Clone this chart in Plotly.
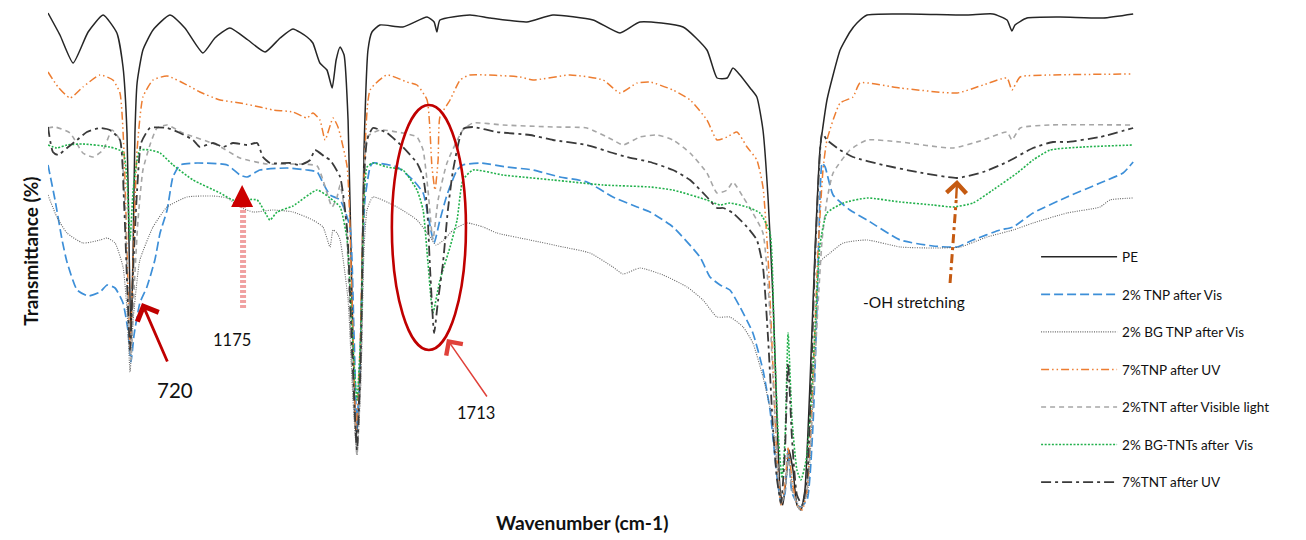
import plotly.graph_objects as go

# ---- data (wavenumber cm-1, transmittance in arbitrary % units) ----
pe_x = [450, 489, 532, 581, 630, 675, 695, 708, 715, 721, 728, 734, 741, 760, 793, 848, 897, 956, 995, 1044,
        1103, 1159, 1208, 1250, 1296, 1315, 1338, 1361, 1378, 1391, 1404, 1417, 1430, 1443, 1456, 1469, 1482,
        1495, 1508, 1534, 1609, 1688, 1711, 1720, 1730, 1828, 1894, 2014, 2099, 2230, 2318, 2383, 2524, 2602,
        2635, 2668, 2687, 2710, 2743, 2765, 2785, 2802, 2818, 2831, 2841, 2850, 2860, 2870, 2883, 2896, 2909,
        2922, 2939, 2955, 2971, 2978, 2994, 3014, 3037, 3069, 3092, 3125, 3256, 3451, 3536, 3582, 3598, 3608,
        3647, 3755, 3896, 3994]
pe_y = [101.4, 97.0, 91.4, 97.6, 101.0, 97.4, 90.6, 77.4, 54.0, 36.0, 54.0, 77.4, 87.4, 94.0, 98.0, 101.0, 98.4,
        93.4, 96.4, 98.4, 96.0, 93.6, 96.4, 98.2, 96.6, 95.4, 91.4, 90.0, 86.4, 92.0, 94.6, 93.0, 80.0, 44.0, 16.0,
        28.0, 74.0, 94.0, 97.6, 99.0, 98.6, 100.6, 99.6, 97.6, 100.0, 101.0, 100.4, 99.6, 101.0, 100.0, 97.4, 99.6,
        98.6, 94.0, 88.4, 88.4, 90.4, 89.0, 86.4, 84.6, 78.0, 64.0, 44.0, 20.0, 6.0, 3.0, 8.0, 14.0, 10.0, 3.0, 2.0,
        6.0, 28.0, 54.0, 74.0, 77.4, 84.0, 89.0, 94.0, 97.6, 99.4, 101.0, 101.2, 101.0, 101.2, 100.0, 97.8, 99.0,
        100.4, 100.6, 100.4, 101.2]

tnp_vis_x = [450, 473, 496, 512, 545, 581, 620, 643, 669, 695, 711, 721, 731, 750, 773, 799, 816, 839, 858, 881,
             937, 1035, 1077, 1100, 1142, 1231, 1296, 1329, 1348, 1371, 1404, 1436, 1449, 1459, 1472, 1485, 1502,
             1511, 1590, 1642, 1675, 1694, 1711, 1730, 1753, 1786, 1805, 1861, 1949, 2034, 2122, 2210, 2295, 2374,
             2416, 2491, 2579, 2612, 2645, 2677, 2710, 2752, 2785, 2808, 2831, 2844, 2857, 2867, 2880, 2906, 2929,
             2948, 2962, 2971, 2978, 2988, 3014, 3069, 3125, 3233, 3340, 3419, 3471, 3559, 3602, 3667, 3778, 3886,
             3961, 3994]
tnp_vis_y = [71.0, 64.0, 56.0, 51.6, 46.0, 44.8, 45.6, 47.0, 46.4, 43.4, 38.0, 31.6, 37.0, 43.4, 46.6, 52.0, 57.4,
             62.0, 68.6, 71.0, 71.4, 71.0, 69.0, 68.6, 70.0, 70.4, 70.0, 69.6, 67.4, 65.0, 64.0, 58.6, 38.0, 18.0,
             38.0, 64.0, 70.6, 71.4, 70.6, 68.0, 65.4, 60.0, 55.4, 60.0, 65.0, 70.0, 71.0, 71.4, 70.6, 70.0, 68.6,
             67.6, 64.6, 62.6, 61.6, 58.6, 52.6, 48.6, 47.0, 46.0, 42.6, 37.4, 30.0, 22.0, 8.6, 3.4, 5.4, 14.0, 5.4,
             2.6, 4.0, 18.6, 44.0, 64.0, 71.4, 70.6, 65.0, 62.0, 60.0, 56.0, 54.8, 54.6, 56.0, 58.0, 58.6, 61.4,
             64.6, 67.4, 69.4, 71.6]

bg_tnp_x = [450, 479, 512, 564, 620, 643, 669, 695, 708, 718, 728, 741, 750, 793, 839, 904, 989, 1035, 1077, 1120,
            1185, 1250, 1315, 1348, 1371, 1381, 1394, 1404, 1430, 1446, 1459, 1472, 1482, 1492, 1511, 1590, 1655,
            1698, 1717, 1743, 1773, 1818, 1871, 1916, 2024, 2132, 2220, 2295, 2328, 2383, 2459, 2537, 2589, 2635,
            2677, 2720, 2752, 2785, 2814, 2831, 2844, 2857, 2870, 2883, 2906, 2929, 2945, 2958, 2971, 3004, 3047,
            3125, 3233, 3340, 3429, 3517, 3602, 3667, 3778, 3886, 3918, 3994]
bg_tnp_y = [65.0, 60.6, 57.4, 55.4, 56.0, 56.4, 55.4, 50.6, 42.0, 29.6, 40.0, 48.0, 52.0, 58.6, 62.6, 64.6, 64.8,
            64.4, 62.6, 61.6, 62.0, 61.6, 60.0, 58.6, 54.6, 58.0, 57.4, 56.0, 44.0, 24.0, 13.0, 28.0, 54.0, 62.0,
            64.6, 62.6, 60.0, 56.6, 55.0, 56.0, 58.0, 59.4, 58.6, 57.4, 56.0, 54.6, 53.4, 50.6, 49.2, 50.4, 49.0,
            46.6, 44.0, 40.6, 40.6, 38.6, 35.4, 28.6, 20.6, 10.6, 3.0, 6.0, 13.0, 6.0, 2.4, 5.0, 20.0, 38.0, 51.6,
            53.4, 55.4, 56.0, 54.6, 54.4, 54.6, 56.6, 58.0, 59.4, 61.4, 62.6, 64.0, 64.4]

tnp_uv_x = [450, 483, 522, 564, 620, 662, 685, 698, 708, 718, 728, 741, 760, 793, 839, 904, 946, 1012, 1077, 1142,
            1185, 1250, 1296, 1315, 1338, 1355, 1381, 1397, 1427, 1443, 1456, 1469, 1482, 1502, 1557, 1622, 1655,
            1688, 1704, 1714, 1724, 1730, 1763, 1796, 1828, 1992, 2034, 2155, 2263, 2318, 2374, 2416, 2491, 2547,
            2602, 2635, 2668, 2700, 2733, 2765, 2785, 2802, 2818, 2831, 2844, 2857, 2867, 2880, 2896, 2913, 2929,
            2945, 2965, 2981, 2994, 3037, 3079, 3102, 3233, 3419, 3504, 3582, 3598, 3625, 3723, 3994]
tnp_uv_y = [89.6, 86.6, 84.4, 86.6, 89.0, 88.0, 85.4, 74.0, 54.0, 34.0, 52.0, 74.0, 84.6, 88.0, 88.8, 87.0, 85.6,
            84.0, 83.4, 82.6, 82.0, 81.6, 80.4, 81.4, 80.0, 76.0, 80.4, 78.6, 70.6, 44.0, 18.0, 34.0, 68.0, 86.0,
            89.0, 87.6, 87.0, 84.0, 70.6, 66.0, 72.0, 80.6, 84.0, 88.0, 89.0, 88.6, 88.0, 89.0, 88.0, 85.4, 87.4,
            87.6, 86.0, 84.0, 80.0, 76.0, 76.6, 77.6, 74.6, 72.0, 66.6, 52.0, 30.0, 12.0, 3.0, 7.0, 14.4, 8.0, 3.0,
            2.0, 6.0, 24.0, 54.0, 70.0, 76.0, 83.4, 84.6, 87.4, 86.4, 85.4, 87.0, 88.4, 86.0, 88.6, 89.0, 89.2]

tnt_vis_x = [450, 473, 522, 564, 597, 630, 659, 685, 701, 711, 721, 731, 744, 760, 783, 806, 839, 891, 1002, 1077,
             1165, 1273, 1329, 1348, 1378, 1394, 1404, 1423, 1440, 1459, 1472, 1482, 1492, 1534, 1609, 1655, 1675,
             1691, 1707, 1724, 1753, 1805, 1838, 1936, 2099, 2210, 2295, 2328, 2383, 2439, 2491, 2547, 2602, 2635,
             2668, 2687, 2720, 2752, 2785, 2805, 2821, 2834, 2844, 2857, 2867, 2880, 2906, 2926, 2945, 2962, 2978,
             2994, 3014, 3069, 3125, 3233, 3406, 3504, 3582, 3598, 3625, 3723, 3994]
tnt_vis_y = [78.4, 78.6, 77.4, 73.4, 72.6, 74.0, 78.0, 76.0, 64.0, 44.0, 32.0, 46.0, 60.0, 70.0, 75.0, 78.4, 79.0,
             77.4, 75.0, 72.4, 71.2, 71.2, 70.8, 68.0, 62.6, 64.6, 67.0, 60.0, 34.0, 13.0, 30.0, 64.0, 76.6, 78.0,
             77.4, 76.6, 74.0, 66.0, 56.0, 64.0, 71.4, 78.0, 79.4, 79.0, 78.6, 78.4, 76.0, 75.0, 76.6, 77.0, 76.0,
             73.4, 69.4, 65.4, 66.0, 67.6, 64.6, 61.4, 57.4, 44.0, 24.0, 10.0, 3.0, 6.0, 13.0, 6.0, 2.0, 5.0, 20.0,
             40.0, 56.0, 64.0, 69.4, 74.0, 76.0, 75.6, 74.4, 76.0, 77.6, 76.0, 78.4, 79.0, 79.0]

bg_tnt_x = [450, 479, 512, 564, 652, 695, 708, 718, 728, 741, 750, 783, 816, 858, 924, 1012, 1054, 1133, 1175,
            1198, 1250, 1329, 1371, 1404, 1427, 1443, 1459, 1472, 1482, 1492, 1511, 1557, 1609, 1655, 1675, 1691,
            1707, 1730, 1763, 1786, 1805, 1838, 1936, 2099, 2263, 2416, 2491, 2602, 2645, 2677, 2733, 2775, 2808,
            2821, 2834, 2847, 2857, 2867, 2880, 2896, 2909, 2926, 2939, 2955, 2971, 2994, 3047, 3125, 3233, 3340,
            3406, 3471, 3536, 3615, 3667, 3723, 3830, 3994]
bg_tnt_y = [75.0, 74.4, 75.0, 75.2, 74.6, 73.6, 68.0, 56.0, 66.0, 72.0, 74.0, 74.0, 73.4, 71.0, 68.0, 65.4, 64.0,
            64.0, 60.0, 61.6, 62.8, 66.0, 64.4, 62.6, 56.0, 38.0, 24.0, 38.0, 64.0, 70.6, 71.4, 70.6, 70.0, 66.0,
            62.0, 51.4, 41.4, 48.0, 54.6, 60.0, 68.0, 70.0, 69.0, 68.0, 67.0, 66.6, 66.0, 64.0, 63.0, 63.4, 62.6,
            61.4, 57.4, 38.0, 18.0, 8.4, 16.0, 37.4, 20.0, 10.0, 8.0, 12.0, 20.6, 38.0, 55.0, 61.4, 63.4, 64.4,
            63.6, 63.0, 62.6, 63.4, 66.0, 69.4, 72.0, 74.0, 74.6, 75.0]

tnt_uv_x = [450, 466, 483, 512, 545, 577, 620, 652, 685, 698, 708, 718, 728, 741, 754, 783, 839, 881, 924, 946,
            989, 1022, 1054, 1100, 1133, 1152, 1175, 1240, 1273, 1306, 1322, 1355, 1371, 1404, 1427, 1443, 1459,
            1472, 1482, 1492, 1511, 1557, 1609, 1655, 1675, 1688, 1698, 1711, 1724, 1740, 1756, 1773, 1805, 1838,
            1916, 2024, 2099, 2210, 2295, 2341, 2416, 2491, 2547, 2602, 2635, 2655, 2687, 2733, 2765, 2785, 2802,
            2818, 2831, 2844, 2857, 2867, 2880, 2896, 2913, 2929, 2942, 2955, 2968, 2978, 2994, 3037, 3079, 3177,
            3288, 3419, 3504, 3582, 3667, 3732, 3778, 3886, 3994]
tnt_uv_y = [78.6, 73.6, 73.0, 74.4, 76.0, 77.6, 78.4, 78.0, 76.0, 64.0, 48.0, 34.0, 50.0, 66.0, 75.4, 78.4, 78.4,
            77.4, 76.0, 74.6, 75.4, 74.6, 75.4, 75.0, 75.4, 72.6, 71.4, 71.4, 71.0, 72.0, 74.0, 72.6, 72.0, 68.6,
            58.0, 34.0, 14.0, 34.0, 68.0, 76.0, 78.4, 77.4, 74.6, 71.4, 68.6, 62.6, 50.0, 37.4, 44.0, 51.4, 62.0,
            70.0, 78.2, 78.6, 77.6, 77.0, 76.0, 75.0, 73.4, 72.6, 71.6, 70.0, 68.0, 64.6, 62.4, 62.4, 61.4, 58.6,
            56.0, 50.6, 36.0, 18.0, 8.0, 3.4, 14.0, 31.4, 16.0, 5.0, 3.0, 8.0, 28.0, 52.0, 70.0, 77.4, 76.0, 74.0,
            72.6, 71.0, 69.6, 68.4, 69.6, 71.6, 74.4, 75.6, 75.6, 76.6, 78.4]

series_names = ["PE", "2% TNP after Vis", "2% BG TNP after Vis", "7%TNP after UV",
                "2%TNT after Visible light", "2% BG-TNTs after  Vis", "7%TNT after UV"]

FONT = "Lato, 'Open Sans', sans-serif"

styles = [
    dict(color="#262626", width=1.5, dash="solid"),
    dict(color="#3D8FD8", width=1.7, dash="9px,4px"),
    dict(color="#666666", width=1.1, dash="1px,1.3px"),
    dict(color="#ED7D31", width=1.5, dash="8px,3px,1.5px,3px,1.5px,3px"),
    dict(color="#A6A6A6", width=1.6, dash="5px,4px"),
    dict(color="#22B14C", width=1.6, dash="2px,1.6px"),
    dict(color="#3A3A3A", width=1.8, dash="10px,4px,3px,4px"),
]

data_sets = [(pe_x, pe_y), (tnp_vis_x, tnp_vis_y), (bg_tnp_x, bg_tnp_y), (tnp_uv_x, tnp_uv_y),
             (tnt_vis_x, tnt_vis_y), (bg_tnt_x, bg_tnt_y), (tnt_uv_x, tnt_uv_y)]

fig = go.Figure()
for i, ((xs, ys), name, st) in enumerate(zip(data_sets, series_names, styles)):
    fig.add_trace(go.Scatter(x=xs, y=ys, mode="lines", name=name,
                             line=dict(st, shape="spline", smoothing=0.5),
                             legendgroup=f"g{i}", hoverinfo="skip"))

RED = "#C00000"
annotations = [
    # axis titles
    dict(text="<b>Transmittance (%)</b>", xref="paper", yref="paper", x=-0.028, y=0.524,
         textangle=-90, showarrow=False, font=dict(size=19, color="#111", family=FONT)),
    dict(text="<b>Wavenumber (cm-1)</b>", xref="paper", yref="paper", x=0.491, y=-0.004,
         yanchor="middle", showarrow=False, font=dict(size=19.2, color="#111", family=FONT)),
    # labels
    dict(text="720", x=865, y=26, showarrow=False, font=dict(size=20.5, color="#111", family=FONT)),
    dict(text="1175", x=1051, y=36, showarrow=False, font=dict(size=16.5, color="#111", family=FONT)),
    dict(text="1713", x=1848, y=21.4, showarrow=False, font=dict(size=16.5, color="#111", family=FONT)),
    dict(text="-OH stretching", x=3278, y=43.6, showarrow=False, font=dict(size=15.5, color="#111", family=FONT)),
    # arrows
    dict(text="", x=757, y=43.4, ax=26, ay=60, showarrow=True, arrowhead=4, arrowsize=1.6,
         arrowwidth=2.8, arrowcolor=RED),
    dict(text="", x=1753, y=36.2, ax=41, ay=59, showarrow=True, arrowhead=4, arrowsize=2.6,
         arrowwidth=1.5, arrowcolor="#E0413A"),
    dict(text="", x=1084, y=67, ax=0, ay=20, showarrow=True, arrowhead=2, arrowsize=2.0,
         arrowwidth=2.2, arrowcolor="#CC0000"),
    dict(text="", x=3419, y=68, ax=-1, ay=20, showarrow=True, arrowhead=4, arrowsize=1.6,
         arrowwidth=2.4, arrowcolor="#C55A11"),
]

shapes = [
    dict(type="circle", xref="x", yref="y", x0=1573, x1=1815, y0=34, y1=83,
         line=dict(color=RED, width=2.6)),
    dict(type="line", xref="x", yref="y", x0=1087, x1=1087, y0=42.4, y1=65,
         line=dict(color="rgba(232,110,110,0.65)", width=6, dash="3px,2px")),
    dict(type="line", xref="x", yref="y", x0=3396, x1=3416, y0=47.4, y1=64,
         line=dict(color="#C55A11", width=3, dash="9px,4px,3px,4px")),
]

# The page body has an 8px margin; the figure is placed so the plot lands where the reference has it.
fig.update_layout(
    width=1290, height=532,
    margin=dict(l=40, r=163, t=0, b=20, autoexpand=False),
    paper_bgcolor="white", plot_bgcolor="white",
    showlegend=True,
    legend=dict(x=0.909, y=0.544, xanchor="left", yanchor="top", bgcolor="rgba(0,0,0,0)",
                font=dict(size=13.5, color="#111", family=FONT), itemwidth=76,
                traceorder="grouped", tracegroupgap=17),
    xaxis=dict(range=[450, 4000], showticklabels=False, showgrid=False, zeroline=False,
               showline=False, ticks=""),
    yaxis=dict(range=[0, 102.4], showticklabels=False, showgrid=False, zeroline=False,
               showline=False, ticks=""),
    annotations=annotations, shapes=shapes,
)

fig.write_html("out.html")
